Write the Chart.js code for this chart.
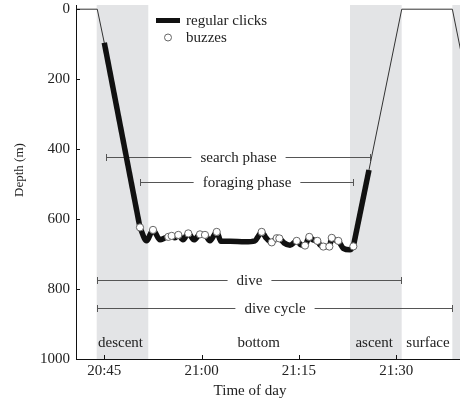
<!DOCTYPE html>
<html><head><meta charset="utf-8">
<script src="https://cdn.jsdelivr.net/npm/chart.js@4/dist/chart.umd.min.js"></script>
<style>html,body{margin:0;padding:0;background:#fff;overflow:hidden}</style>
</head><body>
<canvas id="c" width="460" height="401"></canvas>
<script>
// ---- data (time = minutes after 20:00, depth in m) ----
const timeTicks = [45, 60, 75, 90];
const timeTickLabels = ['20:45', '21:00', '21:15', '21:30'];
const depthTicks = [0, 200, 400, 600, 800, 1000];

const surfaceBeforeTime = [40.5, 43.92];
const surfaceBeforeDepth = [0, 0];

const clickTime = [45.0, 50.50, 51.51, 52.51, 53.59, 54.36, 54.87, 55.39, 55.90, 56.41, 57.13, 57.95, 58.83, 59.75, 60.52, 61.29, 62.33, 62.99, 64.38, 66.69, 68.23, 68.77, 69.26, 69.93, 70.81, 71.58, 71.98, 72.70, 73.63, 74.66, 75.32, 75.94, 76.60, 77.17, 77.84, 78.25, 78.76, 79.69, 80.06, 80.56, 81.07, 81.84, 82.88, 83.39, 85.80];
const clickDepth = [96, 623.8, 662.3, 630.9, 659.4, 653.7, 650.9, 648.0, 653.7, 645.2, 659.4, 640.9, 659.4, 643.7, 645.2, 662.3, 636.6, 663.7, 663.7, 665.1, 662.3, 648.0, 636.6, 653.7, 666.6, 654.6, 655.2, 668.0, 675.1, 662.3, 673.7, 675.7, 650.9, 659.4, 662.3, 673.7, 678.6, 678.6, 653.7, 659.4, 662.3, 683.7, 688.0, 678.0, 459.6];

const surfaceAfterTime = [90.85, 98.65, 101.0];
const surfaceAfterDepth = [0, 0, 216];

const buzzTime = [50.50, 52.51, 54.87, 55.39, 56.41, 57.95, 59.75, 60.52, 62.33, 69.26, 70.81, 71.58, 71.98, 74.66, 75.94, 76.60, 77.84, 78.76, 79.69, 80.06, 81.07, 83.39];
const buzzDepth = [623.8, 630.9, 650.9, 648.0, 645.2, 640.9, 643.7, 645.2, 636.6, 636.6, 666.6, 654.6, 655.2, 662.3, 675.7, 650.9, 662.3, 678.6, 678.6, 653.7, 662.3, 678.0];

const phaseBandStart = [43.83, 82.88, 98.65];
const phaseBandEnd = [51.78, 90.84, 101.0];
const phaseNames = ['descent', 'bottom', 'ascent', 'surface'];
const phaseLabelTime = [47.5, 68.8, 86.6, 94.9];

const intervalNames = ['search phase', 'foraging phase', 'dive', 'dive cycle'];
const intervalStart = [45.26, 50.5, 43.92, 43.92];
const intervalEnd = [85.96, 83.38, 90.69, 98.55];
const intervalDepth = [422, 495, 775, 853];

// ---- build ----
const FONT = '"Liberation Serif","Times New Roman",serif';
const toXY = (ts, ds) => ts.map((t, i) => ({x: t, y: ds[i]}));
const profileTime = [...surfaceBeforeTime, ...clickTime, ...surfaceAfterTime];
const profileDepth = [...surfaceBeforeDepth, ...clickDepth, ...surfaceAfterDepth];
const nC = clickTime.length;

const overlay = {
  id: 'overlay',
  beforeDatasetsDraw(chart) {
    const {ctx, chartArea: a, scales: {x, y}} = chart;
    ctx.save();
    ctx.beginPath(); ctx.rect(a.left, a.top, a.right - a.left, a.bottom - a.top); ctx.clip();
    ctx.fillStyle = '#e3e4e6';
    phaseBandStart.forEach((s, i) => {
      const x0 = x.getPixelForValue(s), x1 = x.getPixelForValue(phaseBandEnd[i]);
      ctx.fillRect(x0, a.top, x1 - x0, a.bottom - a.top);
    });
    ctx.restore();

    ctx.save();
    ctx.font = '15px ' + FONT;
    ctx.strokeStyle = '#555'; ctx.lineWidth = 1; ctx.fillStyle = '#222';
    intervalNames.forEach((name, i) => {
      const x0 = Math.round(x.getPixelForValue(intervalStart[i])) + 0.5;
      const x1 = Math.round(x.getPixelForValue(intervalEnd[i])) + 0.5;
      const yy = Math.round(y.getPixelForValue(intervalDepth[i])) + 0.5;
      const w = ctx.measureText(name).width;
      const cx = (x0 + x1) / 2, g = 9;
      ctx.beginPath();
      ctx.moveTo(x0, yy); ctx.lineTo(cx - w / 2 - g, yy);
      ctx.moveTo(cx + w / 2 + g, yy); ctx.lineTo(x1, yy);
      ctx.moveTo(x0, yy - 3.5); ctx.lineTo(x0, yy + 3.5);
      ctx.moveTo(x1, yy - 3.5); ctx.lineTo(x1, yy + 3.5);
      ctx.stroke();
      ctx.textAlign = 'center'; ctx.textBaseline = 'alphabetic';
      ctx.fillText(name, cx, yy + 4.5);
    });
    phaseNames.forEach((name, i) => {
      ctx.textAlign = 'center'; ctx.textBaseline = 'alphabetic';
      ctx.fillText(name, x.getPixelForValue(phaseLabelTime[i]), y.getPixelForValue(965));
    });
    ctx.restore();
  },
  afterDraw(chart) {
    const {ctx, chartArea: a, scales: {x, y}} = chart;
    ctx.save();
    ctx.strokeStyle = '#111'; ctx.lineWidth = 1;
    ctx.beginPath();
    timeTicks.forEach(v => { const px = Math.round(x.getPixelForValue(v)) + 0.5; ctx.moveTo(px, a.bottom); ctx.lineTo(px, a.bottom - 4); });
    depthTicks.forEach(v => { const py = Math.round(y.getPixelForValue(v)) + 0.5; ctx.moveTo(a.left, py); ctx.lineTo(a.left + 4, py); });
    ctx.stroke();

    // legend
    ctx.fillStyle = '#222';
    ctx.font = '15px ' + FONT;
    ctx.textAlign = 'left'; ctx.textBaseline = 'alphabetic';
    ctx.strokeStyle = '#111'; ctx.lineWidth = 5;
    ctx.beginPath(); ctx.moveTo(156, 20.5); ctx.lineTo(180, 20.5); ctx.stroke();
    ctx.fillText('regular clicks', 186, 25);
    ctx.lineWidth = 1; ctx.strokeStyle = '#666'; ctx.fillStyle = '#fff';
    ctx.beginPath(); ctx.arc(168, 37.5, 3.5, 0, Math.PI * 2); ctx.fill(); ctx.stroke();
    ctx.fillStyle = '#222';
    ctx.fillText('buzzes', 186, 42);

    // axis titles
    ctx.textAlign = 'center';
    ctx.fillText('Time of day', 250, 395);
    ctx.font = '13px ' + FONT;
    ctx.translate(19.5, 170); ctx.rotate(-Math.PI / 2);
    ctx.textBaseline = 'middle';
    ctx.fillText('Depth (m)', 0, 0);
    ctx.restore();
  }
};

const thick = {borderColor: '#111', borderWidth: 5.5, pointRadius: 0, borderJoinStyle: 'round'};

new Chart(document.getElementById('c'), {
  type: 'line',
  data: {
    datasets: [
      {label: 'buzzes', data: toXY(buzzTime, buzzDepth), showLine: false, pointRadius: 3.6,
       pointBackgroundColor: '#fff', pointBorderColor: '#666', pointBorderWidth: 1, order: 0},
      Object.assign({label: 'regular clicks (descent)', data: toXY(clickTime.slice(0, 2), clickDepth.slice(0, 2)), tension: 0, order: 1}, thick),
      Object.assign({label: 'regular clicks (bottom)', data: toXY(clickTime.slice(1, nC - 1), clickDepth.slice(1, nC - 1)), cubicInterpolationMode: 'monotone', order: 1}, thick),
      Object.assign({label: 'regular clicks (ascent)', data: toXY(clickTime.slice(nC - 2), clickDepth.slice(nC - 2)), tension: 0, order: 1}, thick),
      {label: 'profile', data: toXY(profileTime, profileDepth), borderColor: '#333', borderWidth: 1,
       pointRadius: 0, tension: 0, order: 2}
    ]
  },
  options: {
    responsive: false, animation: false, devicePixelRatio: 1,
    layout: {autoPadding: false, padding: {top: 5, left: 0, right: 0, bottom: 0}},
    plugins: {legend: {display: false}, tooltip: {enabled: false}},
    scales: {
      x: {
        type: 'linear', min: 40.64, max: 99.83,
        afterBuildTicks(s) { s.ticks = timeTicks.map(v => ({value: v})); },
        afterFit(s) { s.height = 42; s.paddingLeft = 0; s.paddingRight = 0; },
        grid: {display: false, drawTicks: false},
        border: {display: true, color: '#111', width: 1},
        ticks: {autoSkip: false, maxRotation: 0, padding: 3, color: '#222',
                font: {family: FONT, size: 15},
                callback: v => timeTickLabels[timeTicks.indexOf(v)]}
      },
      y: {
        type: 'linear', reverse: true, min: -12, max: 1000,
        afterBuildTicks(s) { s.ticks = depthTicks.map(v => ({value: v})); },
        afterFit(s) { s.width = 76; s.paddingTop = 0; s.paddingBottom = 0; },
        grid: {display: false, drawTicks: false},
        border: {display: true, color: '#111', width: 1},
        ticks: {padding: 6, color: '#222', font: {family: FONT, size: 15}, callback: v => String(v)}
      }
    }
  },
  plugins: [overlay]
});
</script>
</body></html>
